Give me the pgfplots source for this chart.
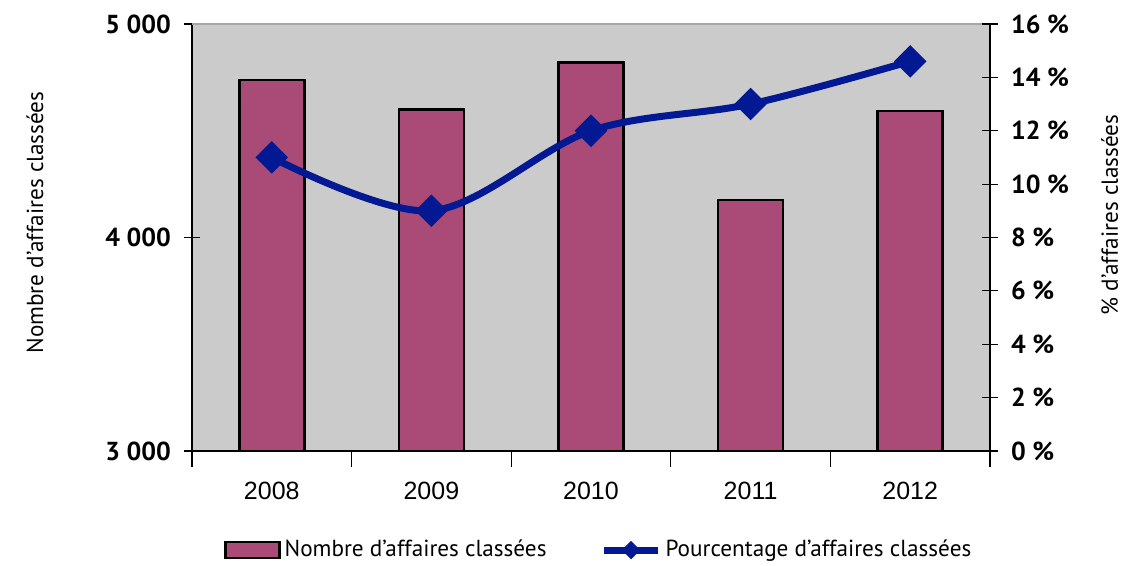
\documentclass[border=0pt]{standalone}
\usepackage{pgfplots}
\pgfplotsset{compat=1.18}
\usepackage{fontspec}
\setmainfont{PT Sans}
\newfontfamily\yearfont{Liberation Sans}
\definecolor{barcol}{RGB}{170,74,118}
\definecolor{linecol}{RGB}{3,25,148}
\definecolor{bgcol}{RGB}{203,203,203}
\pgfplotsset{
  barleg/.style={legend image code/.code={\draw[fill=barcol, draw=black, line width=1.2pt] (0pt,-4pt) rectangle (27pt,4pt);}},
  lineleg/.style={legend image code/.code={\draw[##1, mark repeat=2, mark phase=2, mark size=3pt] plot coordinates {(0pt,0pt) (13.5pt,0pt) (27pt,0pt)};}},
}
\begin{document}
\begin{tikzpicture}
\begin{axis}[
  at={(0,0)}, anchor=south west,
  scale only axis, width=399pt, height=213.5pt,
  xmin=-0.5, xmax=4.5, ymin=3000, ymax=5000,
  axis x line*=bottom, axis y line*=left,
  axis line style={line width=0.7pt, black},
  axis background/.style={fill=bgcol},
  xtick={0,1,2,3,4},
  xticklabels={2008,2009,2010,2011,2012},
  major x tick style={draw=none},
  minor xtick={-0.5,0.5,1.5,2.5,3.5,4.5},
  minor x tick style={black, line width=0.6pt},
  minor tick length=8pt,
  tick align=center,
  major tick length=8pt,
  ytick={3000,4000,5000},
  yticklabels={3 000,4 000,5 000},
  ytick style={black, line width=0.6pt},
  yticklabel style={font=\fontsize{13}{15}\selectfont\bfseries, xshift=-3pt},
  xticklabel style={font=\yearfont\fontsize{12.5}{14}\selectfont, yshift=-4pt},
  ylabel={Nombre d’affaires classées},
  ylabel style={at={(rel axis cs:-0.197,0.535)}, anchor=center, font=\fontsize{11.6}{13}\selectfont},
  ybar, bar width=32.5pt,
]
\addplot[fill=barcol, draw=black, line width=1.3pt] coordinates {(0,4738) (1,4600) (2,4819) (3,4176) (4,4592)};
\draw[gray!70, line width=0.8pt] (rel axis cs:0,1) -- (rel axis cs:1,1);
\end{axis}
\begin{axis}[
  at={(0,0)}, anchor=south west,
  scale only axis, width=399pt, height=213.5pt,
  xmin=-0.5, xmax=4.5, ymin=0, ymax=16,
  axis x line=none, axis y line*=right,
  axis line style={line width=0.7pt, black},
  tick align=center, major tick length=8pt,
  ytick={0,2,4,6,8,10,12,14,16},
  yticklabels={0 \%,2 \%,4 \%,6 \%,8 \%,10 \%,12 \%,14 \%,16 \%},
  ytick style={black, line width=0.6pt},
  yticklabel style={font=\fontsize{13}{15}\selectfont\bfseries, xshift=3pt},
  ylabel={\% d’affaires classées},
  ylabel style={at={(rel axis cs:1.150,0.553)}, anchor=center, font=\fontsize{11.6}{13}\selectfont},
  legend style={at={(rel axis cs:0.511,-0.232)}, anchor=center, draw=none, fill=none,
    legend columns=2, font=\fontsize{11.6}{13}\selectfont,
    /tikz/every even column/.append style={column sep=25pt}},
]
\addlegendimage{barleg}
\addlegendentry{Nombre d’affaires classées}
\addplot[color=linecol, line width=3.5pt, smooth, tension=0.55,
  mark=square*, mark size=5.5pt, mark options={rotate=45, line width=0.5pt, fill=linecol},
  lineleg]
  coordinates {(0,11) (1,9) (2,12) (3,13) (4,14.6)};
\addlegendentry{Pourcentage d’affaires classées}
\end{axis}
\pgfresetboundingbox
\path[use as bounding box] (-96pt,-57.5pt) rectangle (471pt,225.5pt);
\end{tikzpicture}
\end{document}
